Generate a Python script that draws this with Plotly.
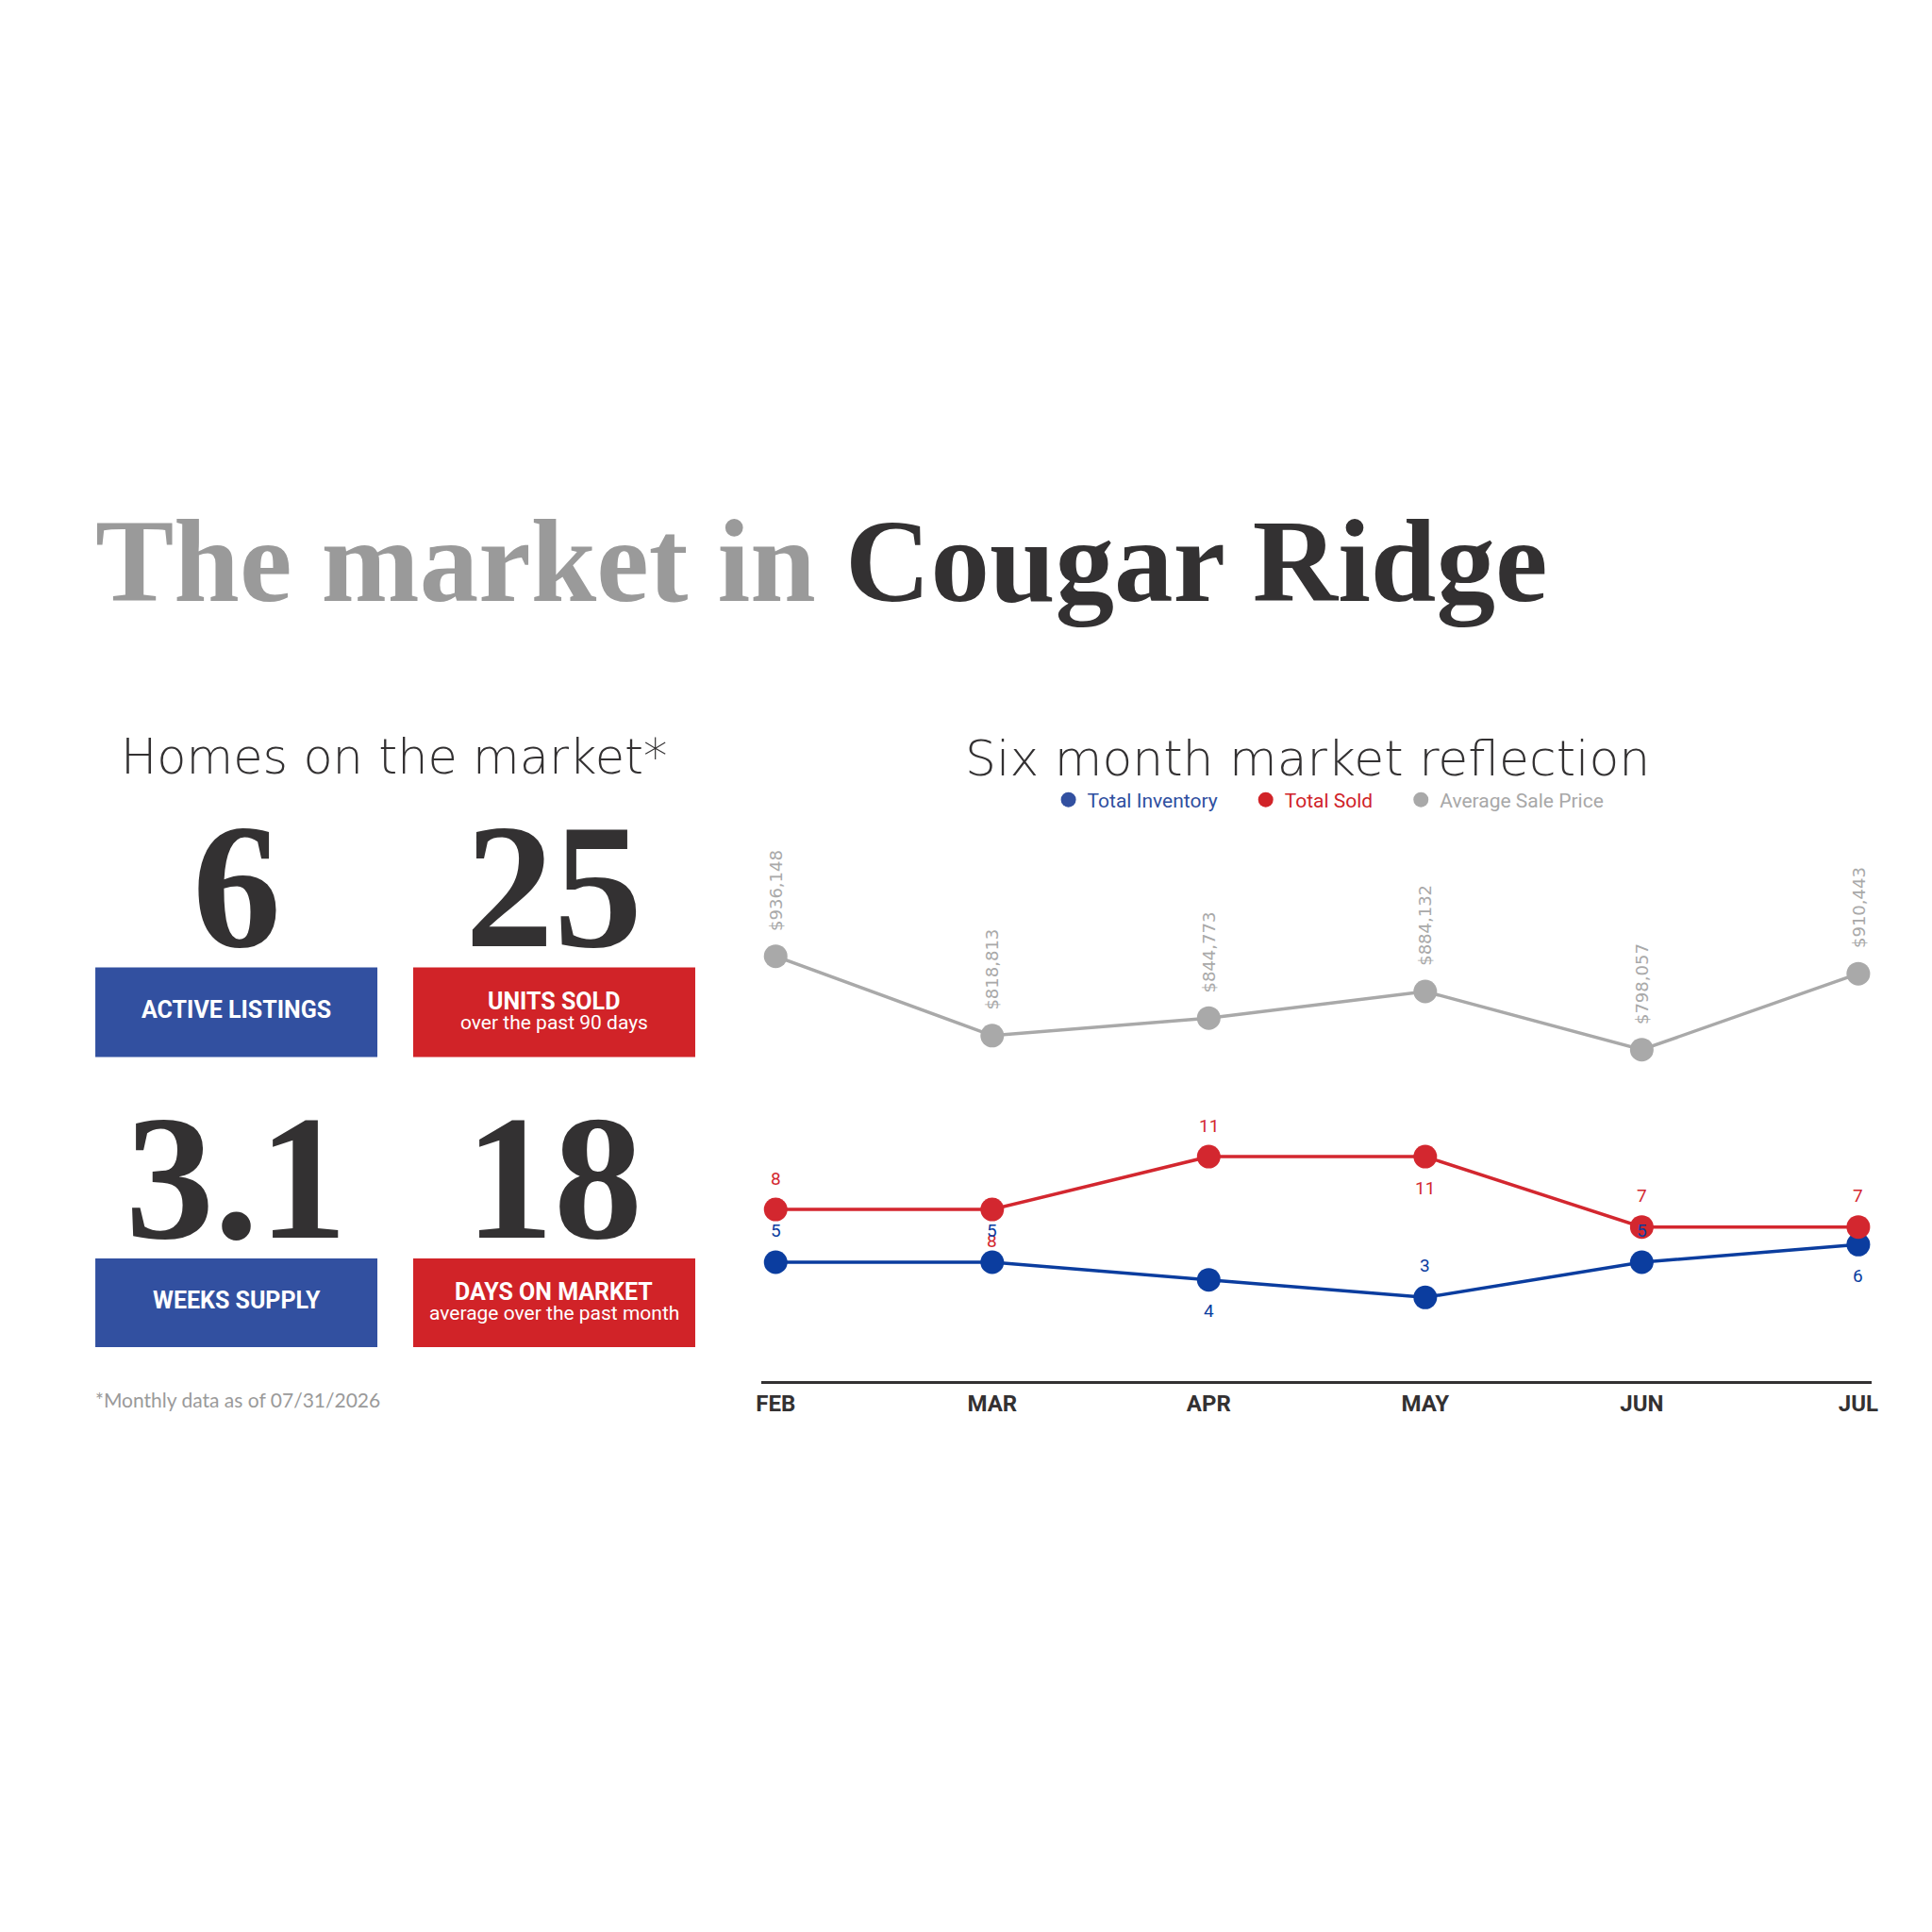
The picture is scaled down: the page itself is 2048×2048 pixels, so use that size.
import plotly.graph_objects as go

# ---- data ----
months = ["FEB", "MAR", "APR", "MAY", "JUN", "JUL"]
total_inventory = [5, 5, 4, 3, 5, 6]
total_sold = [8, 8, 11, 11, 7, 7]
avg_sale_price = [936148, 818813, 844773, 884132, 798057, 910443]

stat_values = ["6", "25", "3.1", "18"]
stat_titles = ["ACTIVE LISTINGS", "UNITS SOLD", "WEEKS SUPPLY", "DAYS ON MARKET"]
stat_notes = ["", "over the past 90 days", "", "average over the past month"]

# where the point labels sit (above / below the marker)
sold_label_side = ["above", "below", "above", "below", "above", "above"]
inv_label_side = ["above", "above", "below", "above", "above", "below"]

# ---- styling ----
W = H = 2048
OX, OY = -14, -17  # page offset correction
BLUE = "#3250a0"
RED = "#d12328"
LINE_BLUE = "#0b3d9f"
LINE_RED = "#d3272f"
GRAY = "#a9a9a9"
DARK = "#333132"
SERIF = "Liberation Serif"
WIDE = "DejaVu Sans ExtraLight, DejaVu Sans"
NARROW = "Liberation Sans Narrow, Roboto"
NB = "\u00a0" * 5


def px(x):
    return (x + OX) / W


def py(y):
    return 1 - (y + OY) / H


def paper_note(x, y, text, font, xanchor="center"):
    fig.add_annotation(xref="paper", yref="paper", x=x, y=y, xanchor=xanchor, yanchor="middle",
                       showarrow=False, text=text, font=font)


fig = go.Figure()

fig.add_trace(go.Scatter(x=months, y=avg_sale_price, yaxis="y2", mode="lines+markers",
                         line=dict(color=GRAY, width=3.5), marker=dict(size=25, color=GRAY),
                         showlegend=False, hoverinfo="skip"))
fig.add_trace(go.Scatter(x=months, y=total_inventory, mode="lines+markers",
                         line=dict(color=LINE_BLUE, width=3.5), marker=dict(size=25, color=LINE_BLUE),
                         showlegend=False, hoverinfo="skip"))
fig.add_trace(go.Scatter(x=months, y=total_sold, mode="lines+markers",
                         line=dict(color=LINE_RED, width=3.5), marker=dict(size=25, color=LINE_RED),
                         showlegend=False, hoverinfo="skip"))

# legend entries
for name, col, txt, pad in [("Total Inventory", BLUE, "#2f4f9f", NB),
                            ("Total Sold", RED, "#d0232a", NB),
                            ("Average Sale Price", GRAY, "#a8a8a8", "")]:
    fig.add_trace(go.Scatter(x=[None], y=[None], mode="markers",
                             marker=dict(size=22, color=col),
                             name=f"<span style='color:{txt}'>{name}</span>{pad}"))

# point labels
for i, m in enumerate(months):
    fig.add_annotation(x=m, y=total_sold[i], yref="y", text=str(total_sold[i]), showarrow=False,
                       yshift=33 if sold_label_side[i] == "above" else -33,
                       font=dict(family=NARROW, size=19, color=LINE_RED))
    fig.add_annotation(x=m, y=total_inventory[i], yref="y", text=str(total_inventory[i]), showarrow=False,
                       yshift=34 if inv_label_side[i] == "above" else -33,
                       font=dict(family=NARROW, size=19, color=LINE_BLUE))
    fig.add_annotation(x=m, y=avg_sale_price[i], yref="y2", text=f"${avg_sale_price[i]:,}",
                       showarrow=False, textangle=-90, yanchor="bottom", yshift=25,
                       font=dict(family="DejaVu Sans", size=18, color=GRAY))

# ---- titles ----
paper_note(px(100), py(604),
           "<span style='color:#9a9a9a'>The market in </span>"
           "<span style='color:#333132'>Cougar Ridge</span>",
           dict(family=SERIF, size=125, weight="bold"), xanchor="left")
paper_note(px(421), py(811), "Homes on the market*",
           dict(family=WIDE, size=51, color=DARK, weight=300))
paper_note(px(1395), py(813), "Six month market reflection",
           dict(family=WIDE, size=52, color=DARK, weight=300))

# ---- stat boxes ----
cols = [(101.6, 402.5), (440.7, 741.6)]
rows = [(881, 1016, 1034.6, 1129.6), (1190, 1324, 1343, 1437)]
for k, val in enumerate(stat_values):
    r, c = divmod(k, 2)
    x0, x1 = cols[c]
    n0, n1, b0, b1 = rows[r]
    cx = (x0 + x1) / 2
    fill = BLUE if c == 0 else RED
    fig.add_shape(type="rect", xref="paper", yref="paper", x0=px(x0), x1=px(x1), y0=py(b1), y1=py(b0),
                  fillcolor=fill, line=dict(width=0), layer="below")
    paper_note(px(cx), py((n0 + n1) / 2), val, dict(family=SERIF, size=188, color=DARK, weight="bold"))
    bc = (b0 + b1) / 2
    if stat_notes[k]:
        paper_note(px(cx), py(bc - 12), stat_titles[k],
                   dict(family="Roboto", size=25, color="white", weight="bold"))
        paper_note(px(cx), py(bc + 11), stat_notes[k], dict(family="Roboto", size=21, color="white"))
    else:
        paper_note(px(cx), py(bc - 3), stat_titles[k],
                   dict(family="Roboto", size=25, color="white", weight="bold"))

paper_note(px(100), py(1492), "*Monthly data as of 07/31/2026",
           dict(family="Lato", size=21, color="#9a9a9a"), xanchor="left")

fig.update_layout(
    width=W, height=H, margin=dict(l=0, r=0, t=0, b=0),
    paper_bgcolor="white", plot_bgcolor="white",
    xaxis=dict(domain=[px(812), px(1996.7)], type="category", range=[-0.0667, 5.062],
               showline=True, linecolor=DARK, linewidth=3, ticks="", showgrid=False, zeroline=False,
               tickfont=dict(family="Roboto", size=24, color=DARK, weight="bold"), ticklabelstandoff=0),
    yaxis=dict(domain=[py(1472.7), py(880)], range=[-1.74, 30.04], visible=False),
    yaxis2=dict(overlaying="y", range=[308443, 1135200], visible=False),
    legend=dict(orientation="h", x=px(1418), xanchor="center", y=py(857), yanchor="middle",
                font=dict(family="Roboto", size=21), bgcolor="rgba(0,0,0,0)"),
    showlegend=True,
)

fig.write_html("out.html")
